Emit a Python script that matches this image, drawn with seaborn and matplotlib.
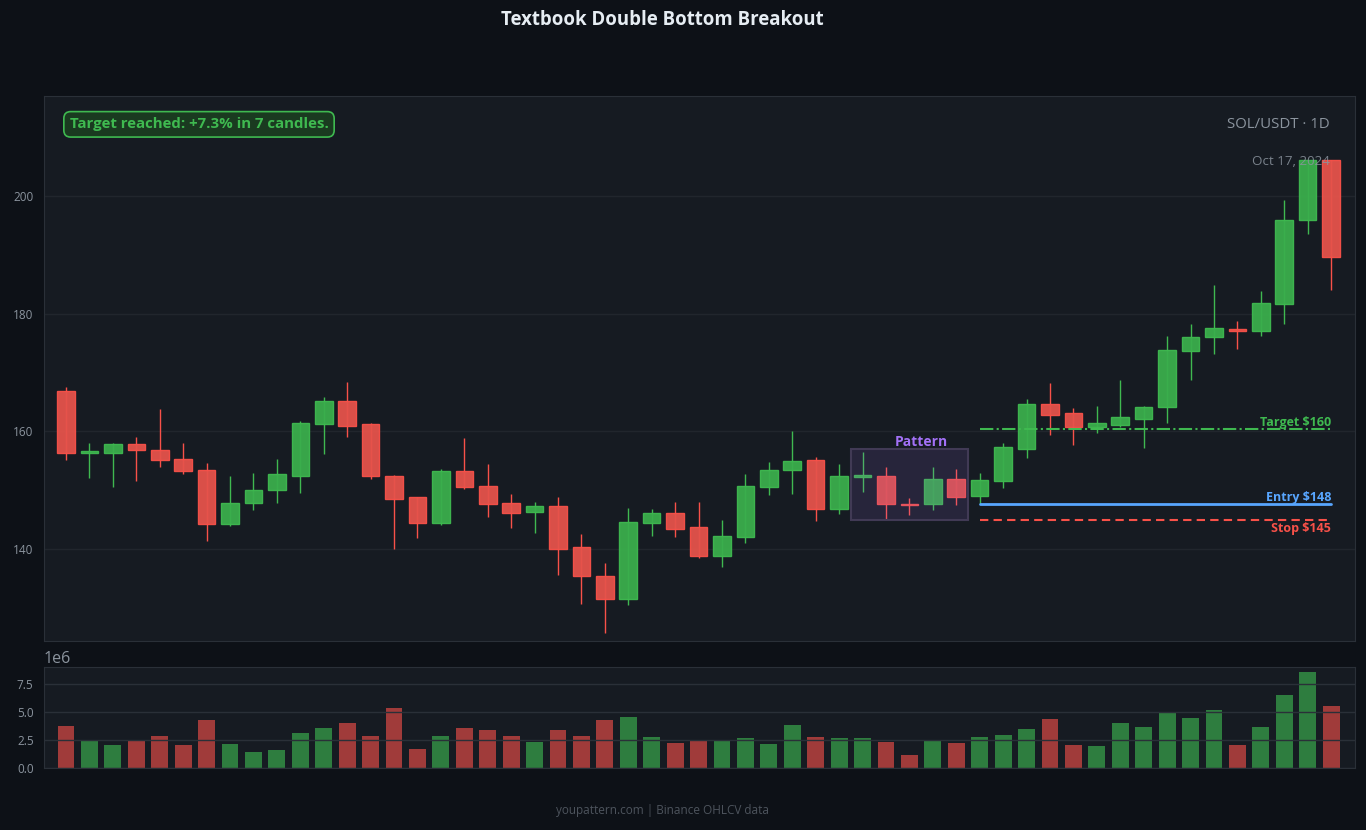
import numpy as np
import pandas as pd
import matplotlib
matplotlib.use("Agg")
import matplotlib.pyplot as plt
import seaborn as sns
from matplotlib.patches import Rectangle

# ---------------- data ----------------
opens = [166.9, 156.4, 156.4, 157.8, 156.9, 155.4, 153.4, 144.2, 147.8, 150.0,
         152.5, 161.2, 165.2, 161.2, 152.5, 148.8, 144.5, 153.2, 150.8, 147.8,
         146.4, 147.3, 140.3, 135.5, 131.6, 144.5, 146.1, 143.7, 138.9, 142.0,
         150.6, 153.4, 155.1, 146.9, 152.3, 152.5, 147.7, 147.6, 152.0, 149.0,
         151.6, 157.0, 164.6, 163.1, 160.7, 161.1, 162.1, 164.1, 173.6, 176.0,
         177.4, 177.0, 181.6, 195.9, 206.1]
highs = [167.5, 158.0, 158.1, 159.0, 163.8, 158.0, 154.6, 152.4, 152.9, 155.3,
         161.8, 165.8, 168.4, 161.5, 152.6, 148.9, 153.6, 158.9, 154.4, 149.3,
         148.0, 148.8, 142.5, 137.6, 147.0, 146.8, 148.0, 148.0, 144.9, 152.7,
         154.8, 160.0, 155.6, 154.4, 156.5, 153.9, 148.7, 153.9, 153.6, 152.9,
         158.1, 165.5, 168.2, 164.0, 164.3, 168.7, 164.4, 176.2, 178.2, 184.9,
         178.7, 183.9, 199.4, 206.2, 206.2]
lows = [155.2, 152.1, 150.6, 151.6, 154.0, 152.8, 141.4, 144.0, 146.7, 147.9,
        149.6, 156.2, 159.1, 151.9, 140.0, 141.9, 144.1, 150.2, 145.5, 143.6,
        142.7, 135.6, 130.7, 125.8, 130.5, 142.3, 142.1, 138.5, 137.0, 141.1,
        149.2, 149.4, 144.8, 145.9, 149.7, 145.1, 145.8, 146.7, 147.5, 147.6,
        150.4, 155.5, 159.4, 157.7, 159.7, 160.8, 157.2, 161.5, 168.8, 173.2,
        174.0, 176.2, 178.2, 193.6, 184.1]
closes = [156.3, 156.6, 157.8, 156.8, 155.2, 153.2, 144.2, 147.9, 150.1, 152.7,
          161.4, 165.2, 161.0, 152.4, 148.6, 144.5, 153.2, 150.6, 147.6, 146.2,
          147.3, 140.1, 135.4, 131.6, 144.7, 146.1, 143.5, 138.9, 142.2, 150.8,
          153.5, 154.9, 146.9, 152.4, 152.5, 147.6, 147.5, 152.0, 148.8, 151.8,
          157.3, 164.6, 162.8, 160.7, 161.4, 162.4, 164.2, 173.9, 176.1, 177.5,
          177.0, 181.8, 196.0, 206.1, 189.6]
volumes_m = [3.76, 2.42, 2.06, 2.51, 2.87, 2.06, 4.30, 2.15, 1.43, 1.61,
             3.14, 3.59, 4.03, 2.87, 5.38, 1.70, 2.87, 3.59, 3.41, 2.87,
             2.33, 3.41, 2.87, 4.30, 4.57, 2.78, 2.24, 2.51, 2.51, 2.69,
             2.15, 3.85, 2.78, 2.69, 2.69, 2.33, 1.17, 2.51, 2.24, 2.78,
             2.96, 3.50, 4.39, 2.06, 1.97, 4.03, 3.67, 5.02, 4.48, 5.20,
             2.06, 3.67, 6.54, 8.60, 5.56]

price_ticks = [140, 160, 180, 200]
volume_ticks = [0.0, 2.5e6, 5.0e6, 7.5e6]

pattern_start, pattern_end = 34, 38
pattern_low, pattern_high = 144.9, 157.0
levels_start = 39
target_price = 160.4
entry_price = 147.6
stop_price = 144.9

title = "Textbook Double Bottom Breakout"
result_text = "Target reached: +7.3% in 7 candles."
symbol_text = "SOL/USDT · 1D"
date_text = "Oct 17, 2024"
footer_text = "youpattern.com | Binance OHLCV data"

# ---------------- style ----------------
FIG_BG = "#0d1117"
AX_BG = "#161b22"
GRID = "#21262d"
SPINE = "#2a3038"
TXT = "#8b949e"
GREEN = "#3fb950"
RED = "#f85149"
GREEN_FILL = "#3aae4c"
RED_FILL = "#e5534b"
BLUE = "#58a6ff"
PURPLE = "#a371f7"

sns.set_theme(style="dark")
plt.rcParams["font.family"] = ["Open Sans", "DejaVu Sans"]

df = pd.DataFrame({"open": opens, "high": highs, "low": lows,
                   "close": closes, "volume": np.array(volumes_m) * 1e6})
df["idx"] = np.arange(len(df))
df["dir"] = np.where(df["close"] >= df["open"], "up", "down")

fig = plt.figure(figsize=(13.66, 8.30), dpi=100, facecolor=FIG_BG)
W, H = 1366, 830
ax = fig.add_axes([44 / W, 1 - 641 / H, (1355 - 44) / W, (641 - 96) / H])
axv = fig.add_axes([44 / W, 1 - 768 / H, (1355 - 44) / W, (768 - 667) / H], sharex=ax)

for a in (ax, axv):
    a.set_facecolor(AX_BG)
    for s in a.spines.values():
        s.set_color(SPINE)
        s.set_linewidth(0.8)
    a.tick_params(colors=TXT, labelsize=8.5, length=4, width=0.8, labelcolor=TXT)
    a.grid(False)

# ---------------- candles ----------------
body_w = 0.75
for i, r in df.iterrows():
    up = r["dir"] == "up"
    col = GREEN if up else RED
    fill = GREEN_FILL if up else RED_FILL
    ax.vlines(r["idx"], r["low"], r["high"], color=col, linewidth=1.0, zorder=2)
    lo = min(r["open"], r["close"])
    hgt = abs(r["close"] - r["open"])
    hgt = max(hgt, 0.25)
    if abs(r["close"] - r["open"]) < 0.3:
        lo = (r["open"] + r["close"]) / 2 - 0.125
    ax.bar(r["idx"], hgt, bottom=lo, width=body_w, color=fill, edgecolor=col,
           linewidth=1.0, zorder=3, alpha=0.95)

ax.set_xlim(-0.94, 55.02)
ax.set_ylim(124.4, 217.0)
ax.set_yticks(price_ticks)
ax.yaxis.grid(True, color=GRID, linewidth=1.0)
ax.set_axisbelow(True)
ax.tick_params(axis="x", bottom=False, labelbottom=False)

# pattern box
ax.add_patch(Rectangle((pattern_start - 0.5, pattern_low), pattern_end - pattern_start + 1,
                       pattern_high - pattern_low, facecolor=PURPLE, alpha=0.12,
                       edgecolor="none", zorder=4))
ax.add_patch(Rectangle((pattern_start - 0.5, pattern_low), pattern_end - pattern_start + 1,
                       pattern_high - pattern_low, facecolor="none",
                       edgecolor="#413a55", linewidth=1.5, zorder=4))
ax.text((pattern_start + pattern_end) / 2 + 0.5, pattern_high + 0.0, "Pattern",
        color=PURPLE, fontsize=10, fontweight="bold", ha="center", va="bottom", zorder=5)

# levels
last = len(df) - 1
ax.plot([levels_start, last], [target_price] * 2, color=GREEN, linestyle="-.",
        linewidth=1.5, zorder=5)
ax.plot([levels_start, last], [entry_price] * 2, color=BLUE, linestyle="-",
        linewidth=2.0, zorder=5)
ax.plot([levels_start, last], [stop_price] * 2, color=RED, linestyle="--",
        linewidth=1.5, zorder=5, dashes=(4, 2.5))
ax.text(last, target_price + 0.0, f"Target ${target_price:.0f}", color=GREEN,
        fontsize=9, fontweight="bold", ha="right", va="bottom", zorder=6)
ax.text(last, entry_price + 0.05, f"Entry ${entry_price:.0f}", color=BLUE,
        fontsize=9, fontweight="bold", ha="right", va="bottom", zorder=6)
ax.text(last, stop_price - 0.2, f"Stop ${stop_price:.0f}", color=RED,
        fontsize=9, fontweight="bold", ha="right", va="top", zorder=6)

# annotations
ax.text(0.0195, 0.948, result_text, transform=ax.transAxes, color=GREEN,
        fontsize=10.85, fontweight="bold", ha="left", va="center", zorder=7,
        bbox=dict(boxstyle="round,pad=0.38,rounding_size=0.45", facecolor="#1a3a20",
                  edgecolor=GREEN, linewidth=1.2))
ax.text(0.9805, 0.948, symbol_text, transform=ax.transAxes, color=TXT,
        fontsize=10.8, ha="right", va="center", zorder=7)
ax.text(0.9805, 0.880, date_text, transform=ax.transAxes, color=TXT,
        fontsize=9.6, ha="right", va="center", zorder=7, alpha=0.85)

# ---------------- volume ----------------
sns.barplot(data=df, x="idx", y="volume", hue="dir",
            palette={"up": "#2e7d3f", "down": "#a03b3a"}, native_scale=True,
            width=0.72, dodge=False, legend=False, ax=axv, saturation=1,
            linewidth=0, zorder=2)
axv.set_xlim(-0.94, 55.02)
axv.set_ylim(0, max(df["volume"]) * 1.05)
axv.set_yticks(volume_ticks)
axv.yaxis.grid(True, color="#2a3038", linewidth=1.0, zorder=3)
axv.set_axisbelow(False)
axv.set_xlabel("")
axv.set_ylabel("")
axv.tick_params(axis="x", bottom=False, labelbottom=False)
axv.yaxis.get_offset_text().set_color(TXT)
axv.yaxis.get_offset_text().set_fontsize(11.5)

fig.text(662 / W, 1 - 20 / H, title, color="#e6edf3", fontsize=13.4,
         fontweight="bold", ha="center", va="center")
fig.text(663 / W, 1 - 810 / H, footer_text, color="#4d545d", fontsize=8.5,
         ha="center", va="center")

fig.savefig("out.png", dpi=100, facecolor=FIG_BG)
